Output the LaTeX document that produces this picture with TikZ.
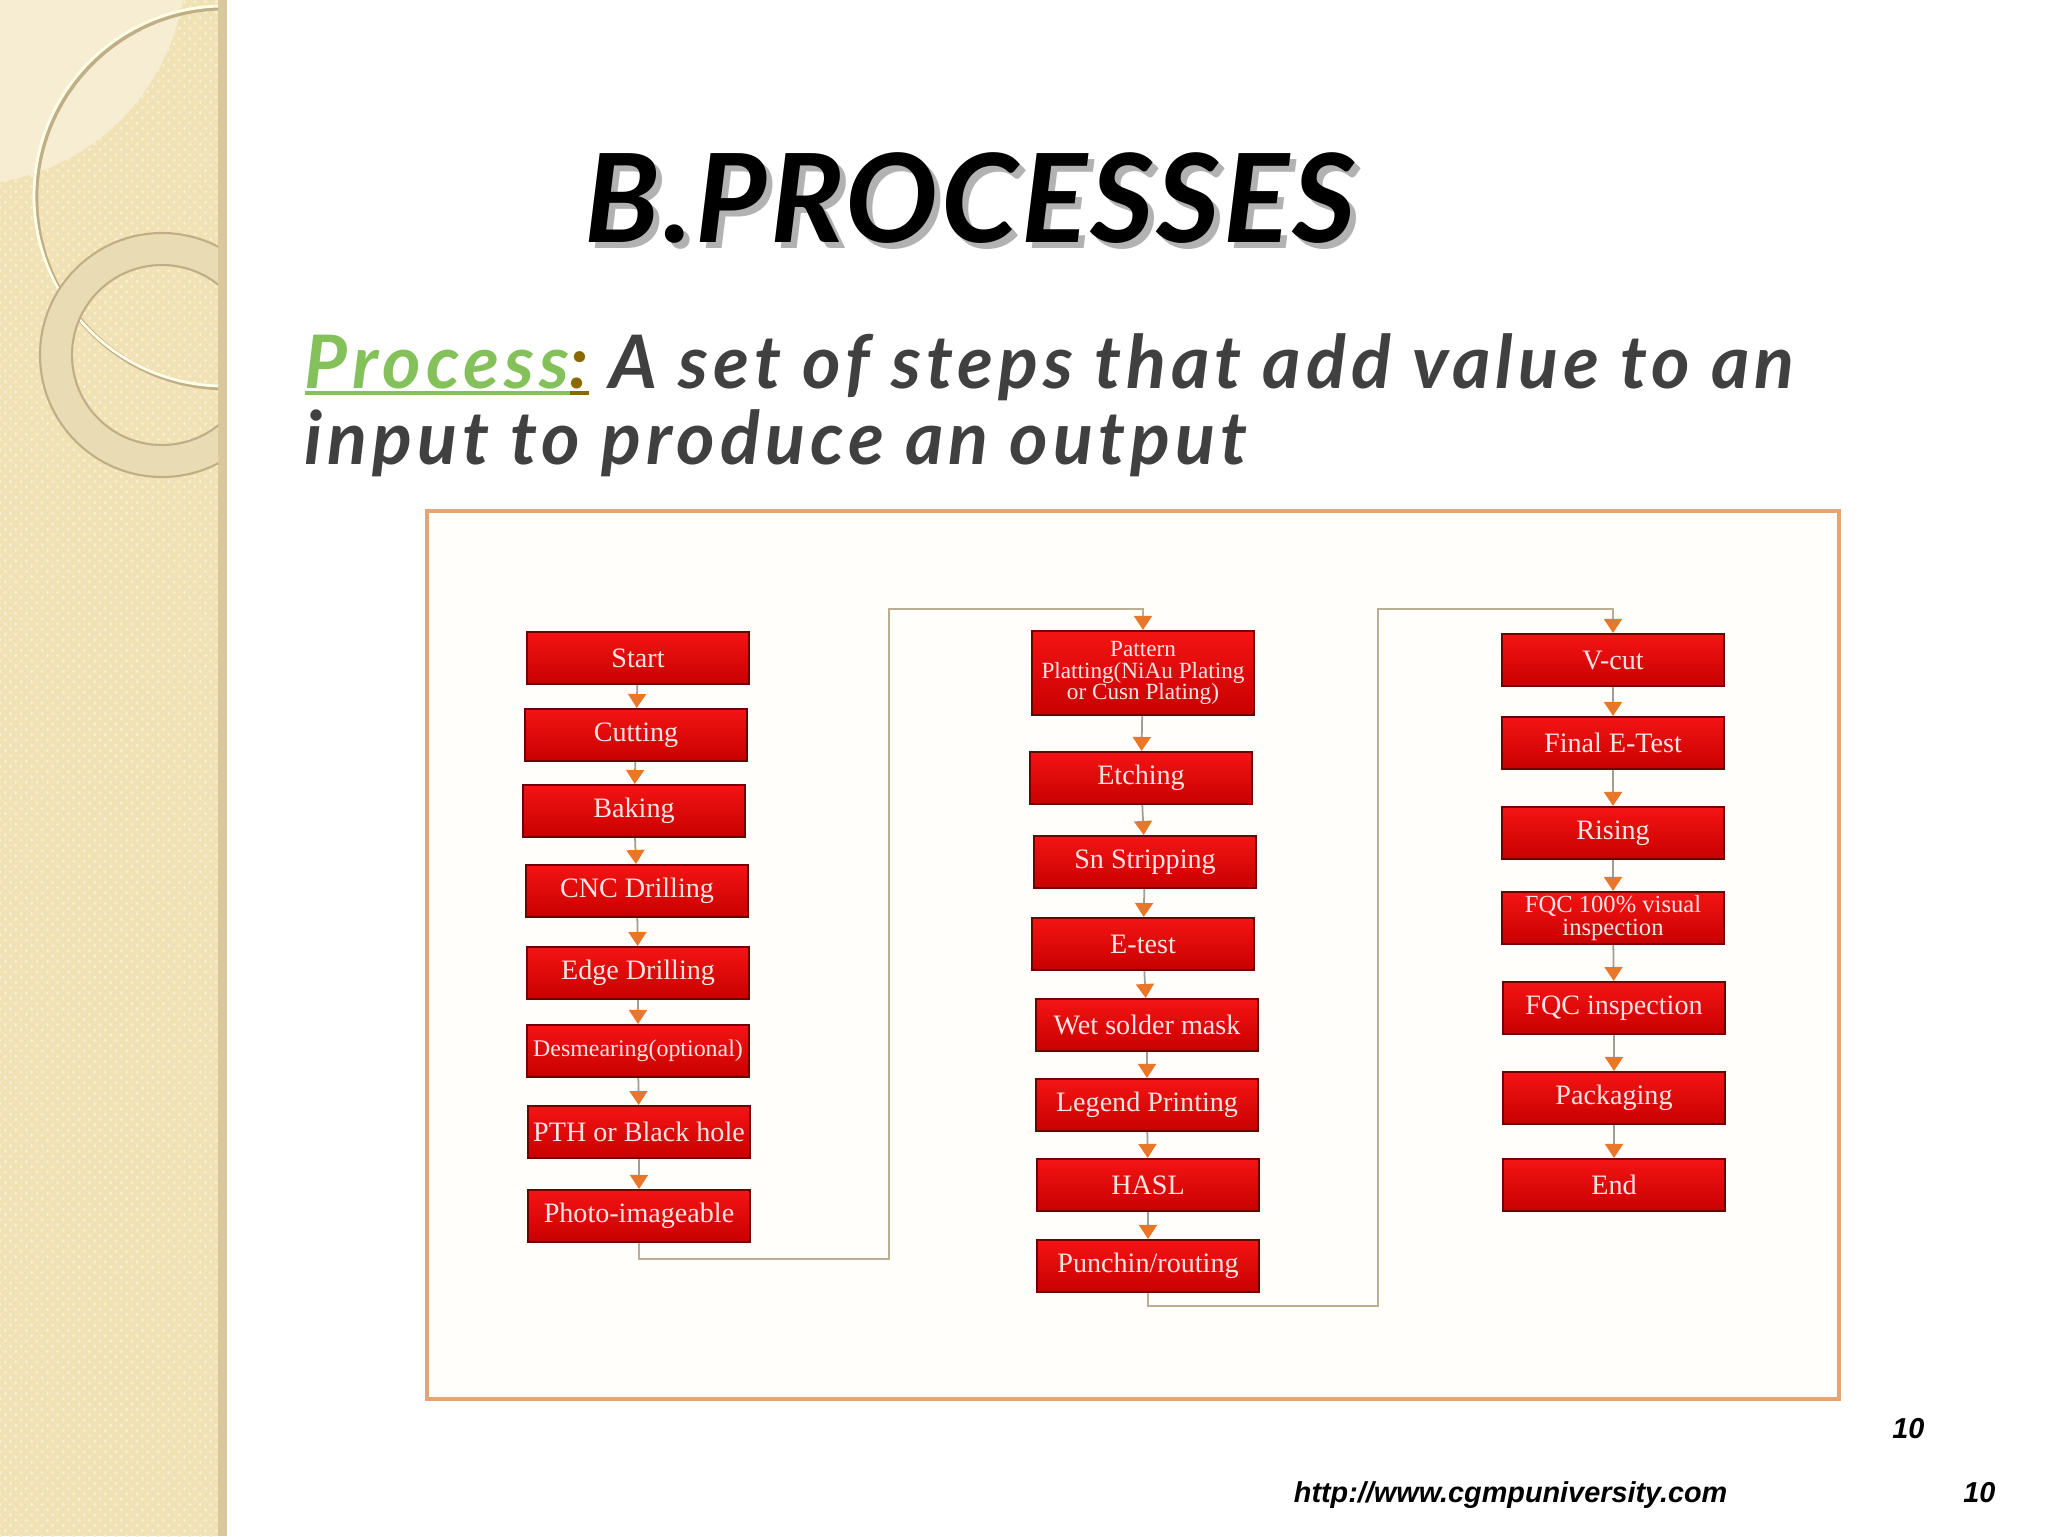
\documentclass[tikz,border=0pt]{standalone}
\usepackage{fontspec}
\setmainfont{Lato}
\newfontfamily\boxfont{Liberation Serif}
\newfontfamily\footfont{Liberation Sans}
\usepackage{xcolor}
\usetikzlibrary{positioning,arrows.meta,patterns}

\definecolor{sidebar}{HTML}{F1E2B6}
\definecolor{sidedot}{HTML}{F8EED2}
\definecolor{sidestrip}{HTML}{D9C89C}
\definecolor{sidelight}{HTML}{F7EDD3}
\definecolor{ringline}{HTML}{BFAE86}
\definecolor{ringfill}{HTML}{E9DBB4}
\definecolor{framecol}{HTML}{E3A577}
\definecolor{framefill}{HTML}{FFFEFA}
\definecolor{boxtop}{HTML}{F41414}
\definecolor{boxbot}{HTML}{C80000}
\definecolor{boxedge}{HTML}{6E0000}
\definecolor{boxtext}{HTML}{FFE4E4}
\definecolor{linkgray}{HTML}{A39C94}
\definecolor{wiretan}{HTML}{BCAE94}
\definecolor{tiporange}{HTML}{E8772A}
\definecolor{procgreen}{HTML}{84C15A}
\definecolor{colonbrown}{HTML}{8A6A00}
\definecolor{deftext}{HTML}{404040}

\newcommand\thickul[1]{\setbox0\hbox{#1}\rlap{\rule[-2pt]{\wd0}{1.1pt}}\box0}

\begin{document}
\begin{tikzpicture}[
    x=0.1mm,y=-0.1mm,
    stepbox/.style={draw=boxedge,line width=0.6pt,top color=boxtop,bottom color=boxbot,
      minimum width=22.2mm,minimum height=5.2mm,inner sep=1pt,align=center,text=boxtext,
      font=\boxfont\fontsize{8}{6.2}\selectfont},
    link/.style={draw=linkgray,line width=0.5pt,-{Triangle[width=1.8mm,length=1.4mm,color=tiporange]}},
    wire/.style={draw=wiretan,line width=0.5pt,-{Triangle[width=1.8mm,length=1.4mm,color=tiporange]}},
    headfont/.style={font=\bfseries\itshape\fontsize{35}{40}\selectfont\addfontfeature{LetterSpace=2.5}},
    deffont/.style={font=\bfseries\itshape\fontsize{21}{24}\selectfont\addfontfeature{LetterSpace=6.8}},
    footfont/.style={font=\footfont\bfseries\itshape\fontsize{8.2}{10}\selectfont}
  ]
    \useasboundingbox (0,0) rectangle (2048,1536);
    \fill[white] (0,0) rectangle (2048,1536);

    % side bar
    \fill[sidebar] (0,0) rectangle (227,1536);
    \fill[pattern=crosshatch dots,pattern color=sidedot] (0,0) rectangle (218,1536);
    \fill[sidestrip] (218,0) rectangle (227,1536);
    \begin{scope}
      \clip (0,0) rectangle (218,1536);
      \fill[sidelight] (0,0) -- (183,0) .. controls (165,95) and (95,165) .. (0,182) -- cycle;
      \draw[ringline,line width=1.3pt] (226,198) circle[radius=190];
      \draw[white!90!yellow,line width=0.8pt] (224,196) circle[radius=190];
      \fill[ringfill,even odd rule] (162,355) circle[radius=122] (162,355) circle[radius=90];
      \draw[ringline,line width=0.6pt] (162,355) circle[radius=122];
      \draw[ringline,line width=0.6pt] (162,355) circle[radius=90];
    \end{scope}

    % heading
    \node[anchor=base west,inner sep=0,text=black!30,headfont] at (590,248) {B.PROCESSES};
    \node[anchor=base west,inner sep=0,headfont] (title) at (584,242) {B.PROCESSES};
    \node[anchor=base west,inner sep=0,text=deftext,deffont] (def1) at (304,388)
      {\textcolor{procgreen}{\thickul{Process}}\textcolor{colonbrown}{\thickul{:}} A set of steps that add value to an};
    \node[anchor=base west,inner sep=0,text=deftext,deffont] (def2) at (304,464)
      {input to produce an output};

    % frame
    \draw[framecol,line width=0.9pt,fill=framefill] (427,511) rectangle (1839,1399);

    % first column
    \node[stepbox] (start) at (638,658) {Start};
    \node[stepbox] (cut) at (636,735) {Cutting};
    \node[stepbox] (bake) at (634,811) {Baking};
    \node[stepbox] (cnc) at (637,891) {CNC Drilling};
    \node[stepbox] (edge) at (638,973) {Edge Drilling};
    \node[stepbox,font=\boxfont\fontsize{6.8}{6.2}\selectfont] (desm) at (638,1051) {Desmearing(optional)};
    \node[stepbox] (pth) at (639,1132) {PTH or Black hole};
    \node[stepbox] (photo) at (639,1216) {Photo-imageable};

    % second column
    \node[stepbox,minimum height=8.4mm,font=\boxfont\fontsize{6.6}{6.1}\selectfont] (pat) at (1143,673)
      {Pattern\\Platting(NiAu Plating\\or Cusn Plating)};
    \node[stepbox] (etch) at (1141,778) {Etching};
    \node[stepbox] (sn) at (1145,862) {Sn Stripping};
    \node[stepbox] (etest) at (1143,944) {E-test};
    \node[stepbox] (wet) at (1147,1025) {Wet solder mask};
    \node[stepbox] (legend) at (1147,1105) {Legend Printing};
    \node[stepbox] (hasl) at (1148,1185) {HASL};
    \node[stepbox] (punch) at (1148,1266) {Punchin/routing};

    % third column
    \node[stepbox] (vcut) at (1613,660) {V-cut};
    \node[stepbox] (fet) at (1613,743) {Final E-Test};
    \node[stepbox] (rise) at (1613,833) {Rising};
    \node[stepbox,font=\boxfont\fontsize{7}{6.3}\selectfont] (fqcv) at (1613,918) {FQC 100\% visual\\inspection};
    \node[stepbox] (fqc) at (1614,1008) {FQC inspection};
    \node[stepbox] (pack) at (1614,1098) {Packaging};
    \node[stepbox] (finish) at (1614,1185) {End};

    \foreach \a/\b in {start/cut,cut/bake,bake/cnc,cnc/edge,edge/desm,desm/pth,pth/photo,
        pat/etch,etch/sn,sn/etest,etest/wet,wet/legend,legend/hasl,hasl/punch,
        vcut/fet,fet/rise,rise/fqcv,fqcv/fqc,fqc/pack,pack/finish}
      \draw[link] (\a) -- (\b);

    % column changes
    \coordinate (turnA) at (889,1259);
    \coordinate (topA) at (889,609);
    \coordinate (turnB) at (1378,1306);
    \coordinate (topB) at (1378,609);
    \draw[wire] (photo.south) |- (turnA) -- (topA) -| (pat.north);
    \draw[wire] (punch.south) |- (turnB) -- (topB) -| (vcut.north);

    % footer
    \node[anchor=base east,inner sep=0,footfont] (pgno) at (1925,1438) {10};
    \node[anchor=base east,inner sep=0,footfont] (url) at (1728,1502) {http://www.cgmpuniversity.com};
    \node[anchor=base east,inner sep=0,footfont] (slno) at (1996,1502) {10};
  \end{tikzpicture}
\end{document}
